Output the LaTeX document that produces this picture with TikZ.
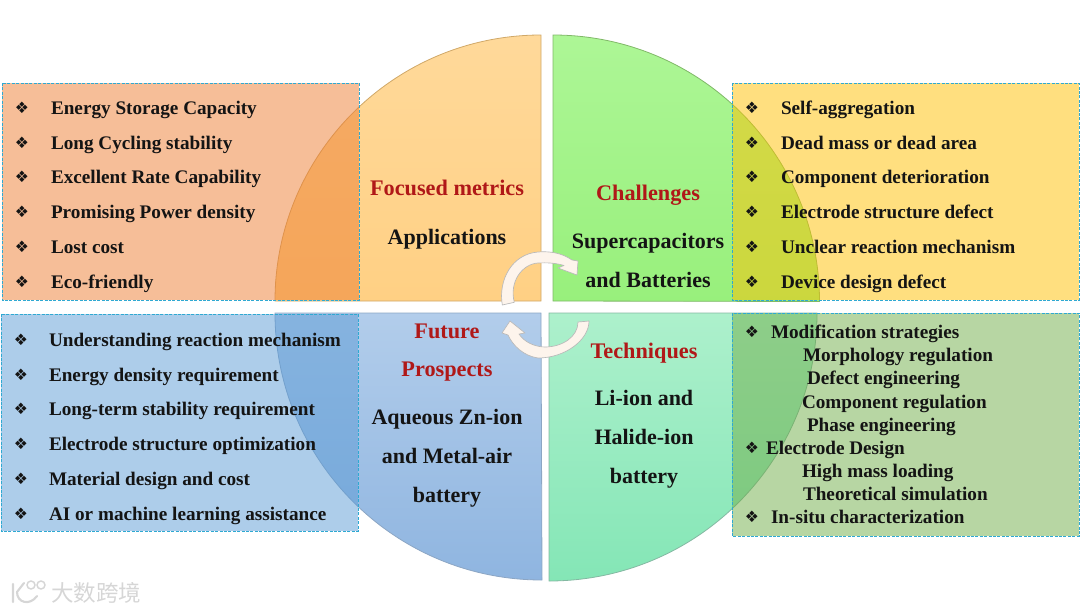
\documentclass[tikz,border=0pt]{standalone}
\usepackage{fontspec}
\setmainfont{Liberation Serif}
\newfontfamily\symf{DejaVu Sans}
\newfontfamily\cjkf{Noto Sans CJK SC}
\definecolor{headred}{HTML}{B01818}
\definecolor{txt}{HTML}{141414}
\definecolor{dashb}{HTML}{2FA9D2}
\definecolor{arrowfill}{HTML}{FDF4EC}
\definecolor{qa}{HTML}{FFD99A}\definecolor{qb}{HTML}{FFD084}\definecolor{qc}{HTML}{D0A868}
\definecolor{ra}{HTML}{ADF696}\definecolor{rb}{HTML}{98F07C}\definecolor{rc}{HTML}{80B868}
\definecolor{sa}{HTML}{B2CDEB}\definecolor{sb}{HTML}{8FB5E0}\definecolor{sc}{HTML}{8CA6C4}
\definecolor{ta}{HTML}{ADF0CC}\definecolor{tb}{HTML}{84E6B6}\definecolor{tc}{HTML}{84B8A2}
\definecolor{boxo}{HTML}{ED7D31}\definecolor{boxy}{HTML}{FFC000}\definecolor{boxb}{HTML}{5B9BD5}\definecolor{boxg}{HTML}{70AD47}
\tikzset{
  quad/.style={line width=0.6pt},
  infobox/.style={fill opacity=0.5,draw opacity=1,draw=dashb,line width=0.75pt,dash pattern=on 2.2pt off 1.1pt},
  item/.style={anchor=base west,inner sep=0,outer sep=0,font=\fontsize{14.4}{16}\selectfont\bfseries,text=txt},
  bul/.style={anchor=center,inner sep=0,outer sep=0,font=\symf\fontsize{11.8}{14}\selectfont,text=txt},
  head/.style={anchor=base,inner sep=0,font=\fontsize{16.7}{18}\selectfont\bfseries,text=headred},
  body/.style={anchor=base,inner sep=0,font=\fontsize{16.5}{18}\selectfont\bfseries,text=txt},
  curved/.style={fill=arrowfill,draw=gray!55,line width=0.5pt,line join=round},
  wmark/.style={anchor=base west,inner sep=0,font=\cjkf\fontsize{16.9}{18}\selectfont,text=black!16},
}
\begin{document}
\begin{tikzpicture}[x=0.75pt,y=-0.75pt]
\useasboundingbox (0,0) rectangle (1080,614);
% quadrants
\path[quad,draw=qc,top color=qa,bottom color=qb] (541,301) -- (541,35) arc[start angle=-90,end angle=-180,radius=266] -- cycle;
\path[quad,draw=rc,top color=ra,bottom color=rb] (553,301) -- (553,35) arc[start angle=-90,end angle=0,radius=266.5] -- cycle;
\path[quad,draw=sc,top color=sa,bottom color=sb] (541,313) -- (275,313) arc[start angle=180,end angle=90,radius=267] -- cycle;
\path[quad,draw=tc,top color=ta,bottom color=tb] (549,313) -- (817,313) arc[start angle=0,end angle=90,radius=268] -- cycle;
% boxes
\path[infobox,fill=boxo] (2,83) rectangle (359,300);
\path[infobox,fill=boxy] (732,83) rectangle (1079,300);
\path[infobox,fill=boxb] (1,314) rectangle (358,531);
\path[infobox,fill=boxg] (732,313) rectangle (1079,536);
% curved arrows
\path[curved] (502.3,305) .. controls (498,280) and (512,254) .. (538,252) .. controls (550,251) and (562,253) .. (572,260) -- (578,261) -- (577,275) -- (558,268) -- (564,265.5) .. controls (556,263) and (547,262.5) .. (538,263) .. controls (522,264) and (509,282) .. (514.3,302.3) -- cycle;
\path[curved] (589,321) .. controls (589,340) and (565,358) .. (538,358) .. controls (524,356) and (513,346) .. (508,335) -- (502,333) -- (510,321) -- (525,333) -- (519,334) .. controls (524,342) and (535,347) .. (545,347) .. controls (562,347) and (578,337) .. (578,322) -- cycle;
% top-left list
\foreach \n/\y/\t in {a/108/Energy Storage Capacity,b/143/Long Cycling stability,c/177/Excellent Rate Capability,d/212/Promising Power density,e/247/Lost cost,f/282/Eco-friendly}{
  \node[bul] (tlb\n) at (22,\y) {❖};
  \node[item] (tl\n) at (51,\y+6) {\t};
}
% top-right list
\foreach \n/\y/\t in {a/108/Self-aggregation,b/143/Dead mass or dead area,c/177/Component deterioration,d/212/Electrode structure defect,e/247/Unclear reaction mechanism,f/282/Device design defect}{
  \node[bul] (trb\n) at (752,\y) {❖};
  \node[item] (tr\n) at (781,\y+6) {\t};
}
% bottom-left list
\foreach \n/\y/\t in {a/340/Understanding reaction mechanism,b/375/Energy density requirement,c/409/Long-term stability requirement,d/444/Electrode structure optimization,e/479/Material design and cost,f/514/AI or machine learning assistance}{
  \node[bul] (blb\n) at (21,\y) {❖};
  \node[item] (bl\n) at (49,\y+6) {\t};
}
% bottom-right list
\foreach \n/\x/\y/\t in {a/771/332/Modification strategies,b/803/355/Morphology regulation,c/807/378/Defect engineering,d/802/402/Component regulation,e/807/425/Phase engineering,f/766/448/Electrode Design,g/802/471/High mass loading,h/803/494/Theoretical simulation,i/771/517/In-situ characterization}{
  \node[item] (br\n) at (\x,\y+6) {\t};
}
\node[bul] (brba) at (752,332) {❖};
\node[bul] (brbf) at (752,448) {❖};
\node[bul] (brbi) at (752,517) {❖};
% centre labels
\node[head] (h1) at (447,195) {Focused metrics};
\node[body] (b1) at (447,244) {Applications};
\node[head] (h2) at (648,200) {Challenges};
\node[body] (b2a) at (648,248) {Supercapacitors};
\node[body] (b2b) at (648,287) {and Batteries};
\node[head] (h3a) at (447,338) {Future};
\node[head] (h3b) at (447,376) {Prospects};
\node[body] (b3a) at (447,424) {Aqueous Zn-ion};
\node[body] (b3b) at (447,463) {and Metal-air};
\node[body] (b3c) at (447,502) {battery};
\node[head] (h4) at (644,358) {Techniques};
\node[body] (b4a) at (644,405) {Li-ion and};
\node[body] (b4b) at (644,444) {Halide-ion};
\node[body] (b4c) at (644,483) {battery};
% watermark
\node[wmark] (wm) at (51,601) {大数跨境};
\draw[black!16,line width=1.6pt,line cap=round] (13,584) -- (13,602) (17,592) .. controls (17,603) and (30,606) .. (37,596) (17,592) -- (24,583);
\draw[black!16,line width=1.1pt] (31,585) circle[radius=4] (41,585) circle[radius=4];
\end{tikzpicture}
\end{document}
